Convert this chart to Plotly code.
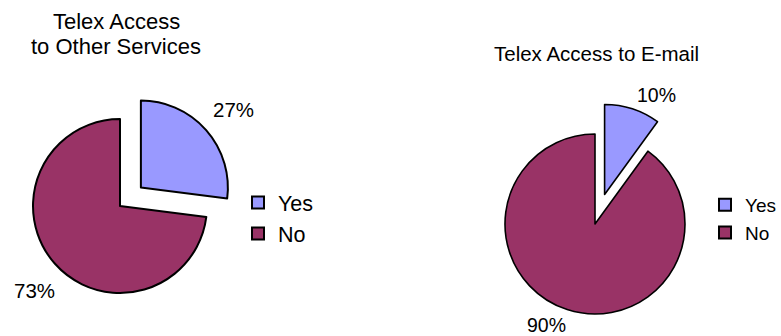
import math
import plotly.graph_objects as go

# Survey answers
labels = ["Yes", "No"]
other_values = [27, 73]   # Telex access to other services
email_values = [10, 90]   # Telex access to e-mail
other_title = ["Telex Access", "to Other Services"]
email_title = "Telex Access to E-mail"

slice_colors = ["#9999FF", "#993366"]
clear = "rgba(0,0,0,0)"
FONT = "Liberation Sans, Arial, sans-serif"

W, H = 781, 336


def px(x, y):
    """Pixel position -> paper coordinates."""
    return x / W, (H - y) / H


def domain(cx, cy, r):
    """Square pie domain (paper coords) for a pie of radius r centred at pixel (cx, cy)."""
    return dict(x=[(cx - r) / W, (cx + r) / W],
                y=[(H - (cy + r)) / H, (H - (cy - r)) / H])


def pie_group(values, cx, cy, r, pull, line_w, legend_id, group):
    """Pie with the first slice exploded outwards along its mid-angle."""
    total = sum(values)
    mid = 2 * math.pi * (values[0] / 2) / total  # clockwise from 12 o'clock
    dx = pull * r * math.sin(mid)
    dy = -pull * r * math.cos(mid)
    common = dict(labels=labels, values=values, sort=False, direction="clockwise",
                  rotation=0, hoverinfo="skip", textinfo="none")
    traces = []
    # legend key (tiny, tucked under the main slice)
    traces.append(go.Pie(**common,
                         domain=domain(cx - r * 0.5, cy + r * 0.3, 0.05),
                         marker=dict(colors=slice_colors,
                                     line=dict(color="black", width=2)),
                         legend=legend_id, legendgroup=group, showlegend=True))
    # body: the remaining slice in place
    traces.append(go.Pie(**common, domain=domain(cx, cy, r),
                         marker=dict(colors=[clear, slice_colors[1]],
                                     line=dict(color="black", width=[0, line_w])),
                         showlegend=False))
    # exploded slice
    traces.append(go.Pie(**common, domain=domain(cx + dx, cy + dy, r),
                         marker=dict(colors=[slice_colors[0], clear],
                                     line=dict(color="black", width=[line_w, 0])),
                         showlegend=False))
    return traces


def pct(values):
    total = sum(values)
    return [f"{round(100 * v / total)}%" for v in values]


fig = go.Figure()
for t in pie_group(other_values, 120, 206, 87, 0.32, 2, "legend", "other"):
    fig.add_trace(t)
for t in pie_group(email_values, 595, 224, 90, 0.345, 1.6, "legend2", "email"):
    fig.add_trace(t)

annotations = []


def add_text(text, x, y, size, xanchor="center"):
    ax, ay = px(x, y)
    annotations.append(dict(text=text, x=ax, y=ay, xref="paper", yref="paper",
                            showarrow=False, xanchor=xanchor, yanchor="middle",
                            font=dict(family=FONT, size=size, color="black")))


# titles
add_text(other_title[0], 116, 22, 22)
add_text(other_title[1], 116, 47, 22)
add_text(email_title, 596, 53, 20.5)

# percentage labels
other_pct = pct(other_values)
email_pct = pct(email_values)
add_text(other_pct[0], 233, 110, 20.5)
add_text(other_pct[1], 34, 290, 20.5)
add_text(email_pct[0], 656, 95, 19.5)
add_text(email_pct[1], 546, 325, 19.5)

legend_style = dict(yanchor="top", bgcolor=clear, traceorder="normal")

fig.update_layout(
    width=W, height=H,
    margin=dict(l=0, r=0, t=0, b=0),
    paper_bgcolor="white", plot_bgcolor="white",
    legend=dict(**legend_style, xanchor="left", x=238 / W, y=(H - 182) / H,
                font=dict(family=FONT, size=21.5, color="black")),
    legend2=dict(**legend_style, xanchor="right", x=1.0, y=(H - 186) / H,
                 font=dict(family=FONT, size=19, color="black")),
    annotations=annotations,
)

fig.write_html("out.html")
